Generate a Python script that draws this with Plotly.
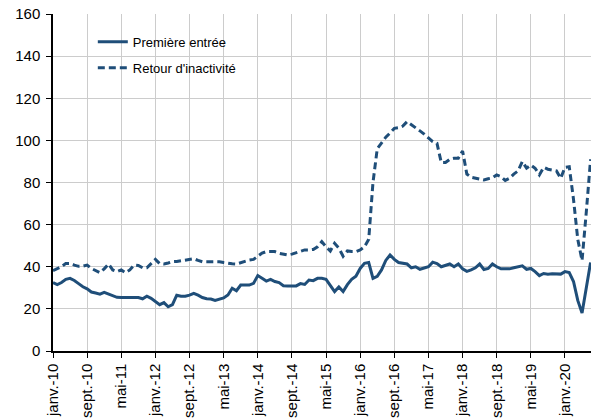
import plotly.graph_objects as go

# Monthly series, janv. 2010 -> juil. 2020 (index 0 = janv.-10)
premiere_entree = [
    32.5, 31.5, 32.5, 34.0, 34.5, 33.5, 32.0, 30.5, 29.5, 28.0, 27.5, 27.0,
    27.8, 27.0, 26.5, 25.5, 25.4, 25.4, 25.4, 25.4, 25.4, 24.8, 26.0, 25.0,
    23.5, 22.0, 23.0, 21.0, 22.0, 26.5, 26.0, 26.0, 26.5, 27.4, 26.5, 25.4,
    24.8, 24.7, 24.0, 24.5, 25.2, 26.6, 29.8, 28.6, 31.3, 31.3, 31.3, 32.1,
    35.8, 34.5, 33.2, 34.0, 33.0, 32.5, 31.0, 30.9, 30.9, 30.9, 32.0, 31.6,
    33.7, 33.4, 34.5, 34.5, 34.0, 31.3, 28.2, 30.4, 28.2, 31.5, 34.0, 35.5,
    39.2, 41.6, 42.0, 34.5, 35.5, 38.5, 43.0, 45.6, 43.5, 42.0, 41.6, 41.3,
    39.5, 40.0, 38.8, 39.3, 40.0, 42.2, 41.5, 40.0, 40.5, 41.3, 40.0, 41.3,
    39.0, 37.8, 38.5, 39.5, 41.3, 38.7, 39.2, 41.3, 40.0, 39.0, 39.0, 39.0,
    39.5, 39.8, 40.4, 38.8, 39.2, 37.7, 35.8, 36.8, 36.5, 36.7, 36.5, 36.5,
    37.7, 37.2, 33.0, 24.0, 18.0, 30.0, 42.0,
]

retour_inactivite = [
    38.2, 39.0, 40.0, 41.6, 41.6, 40.8, 40.2, 40.3, 40.8, 39.2, 38.1, 37.2,
    39.0, 41.3, 38.5, 37.7, 38.5, 37.2, 38.5, 40.8, 40.6, 39.5, 39.5, 41.6,
    43.5, 41.5, 41.3, 41.8, 42.4, 42.5, 42.8, 43.0, 43.2, 43.8, 43.0, 42.4,
    42.4, 42.4, 42.4, 42.4, 42.0, 41.6, 41.4, 41.3, 42.0, 42.5, 43.2, 43.5,
    45.0, 46.5, 47.2, 47.2, 47.2, 46.4, 46.0, 45.6, 46.0, 46.7, 47.5, 48.0,
    48.0, 48.2, 49.5, 51.9, 49.5, 47.5, 51.1, 48.8, 45.0, 47.5, 47.2, 47.2,
    48.0, 49.5, 53.0, 80.0, 96.0, 98.6, 101.5, 103.5, 105.7, 106.0, 106.8, 108.9,
    107.3, 106.0, 104.5, 103.0, 101.0, 99.4, 98.6, 89.5, 89.5, 91.0, 91.5, 91.5,
    95.0, 84.0, 82.5, 82.0, 81.5, 81.2, 81.8, 82.2, 83.6, 82.8, 81.0, 82.0,
    84.0, 85.5, 89.9, 86.8, 88.3, 86.8, 83.6, 87.2, 86.3, 86.0, 85.5, 82.0,
    87.2, 87.5, 72.0, 53.0, 43.0, 66.0, 91.0,
]

tick_labels = [
    "janv.-10", "sept.-10", "mai-11", "janv.-12", "sept.-12", "mai-13",
    "janv.-14", "sept.-14", "mai-15", "janv.-16", "sept.-16", "mai-17",
    "janv.-18", "sept.-18", "mai-19", "janv.-20",
]
tick_step = 8  # months between labels

months = list(range(len(premiere_entree)))
tick_vals = [i * tick_step for i in range(len(tick_labels))]

color = "#1f4e79"
font_family = "Liberation Sans, Arial, sans-serif"

fig = go.Figure()
fig.add_trace(go.Scatter(
    x=months, y=premiere_entree, mode="lines", name="Première entrée",
    legendgroup="a",
    line=dict(color=color, width=3),
))
fig.add_trace(go.Scatter(
    x=months, y=retour_inactivite, mode="lines", name="Retour d'inactivité",
    legendgroup="b",
    line=dict(color=color, width=3, dash="7px,4px"),
))

fig.update_layout(
    width=591, height=420,
    margin=dict(l=53, r=0, t=14, b=69),
    paper_bgcolor="white", plot_bgcolor="white",
    font=dict(family=font_family, color="black", size=14),
    showlegend=True,
    legend=dict(
        x=0.074, y=0.962, xanchor="left", yanchor="top",
        bgcolor="rgba(0,0,0,0)", font=dict(size=13, family=font_family),
        tracegroupgap=6,
    ),
)
fig.update_xaxes(
    range=[0, len(months) - 0.9],
    tickmode="array", tickvals=tick_vals, ticktext=tick_labels,
    tickangle=-90, tickfont=dict(size=15),
    showgrid=True, gridcolor="#cccccc", gridwidth=1,
    showline=True, linecolor="black", linewidth=1.5,
    ticks="outside", ticklen=5, tickcolor="black",
    zeroline=False, automargin=False,
)
fig.update_yaxes(
    range=[0, 160], tickvals=list(range(0, 161, 20)),
    tickfont=dict(size=15),
    showgrid=True, gridcolor="#cccccc", gridwidth=1,
    showline=True, linecolor="black", linewidth=1.5,
    ticks="outside", ticklen=5, tickcolor="black",
    ticklabelstandoff=3,
    zeroline=False, automargin=False,
)

fig.write_html(
    "out.html",
    config={"displayModeBar": False},
    post_script="document.body.style.margin='0';document.body.style.overflow='hidden';",
)
